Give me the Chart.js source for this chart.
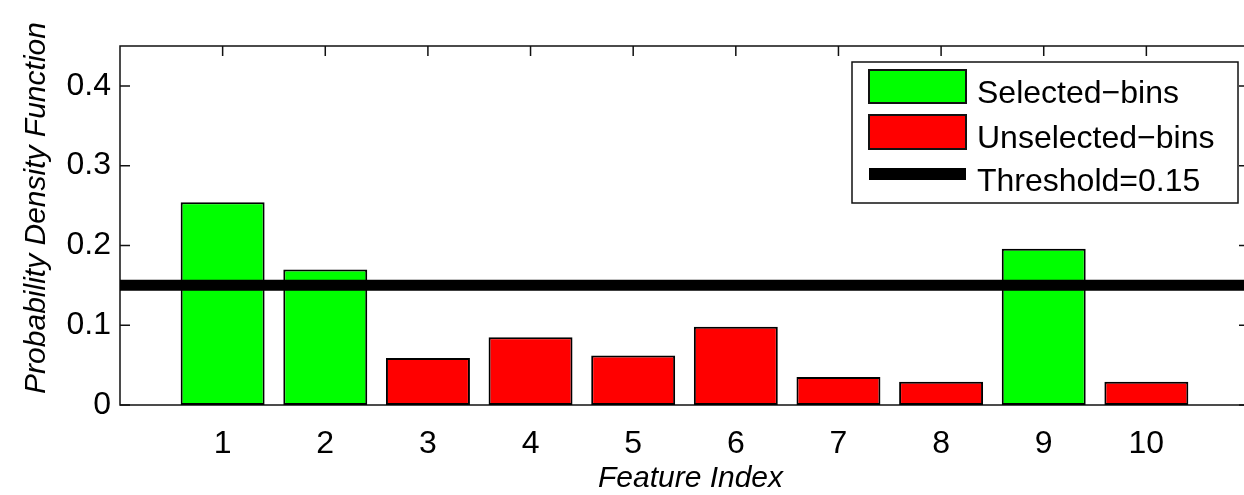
<!DOCTYPE html>
<html>
<head>
<meta charset="utf-8">
<script src="https://cdn.jsdelivr.net/npm/chart.js@4.4.0/dist/chart.umd.min.js"></script>
<style>
  html, body { margin: 0; padding: 0; overflow: hidden; background: #fff; }
  #wrap { width: 1260px; height: 495px; }
</style>
</head>
<body>
<div id="wrap"><canvas id="pdf-chart"></canvas></div>
<script>
// feature bins and their estimated pdf values
var featureIndex = [1, 2, 3, 4, 5, 6, 7, 8, 9, 10];
var pdfValues = [0.254, 0.170, 0.059, 0.085, 0.062, 0.098, 0.035, 0.029, 0.196, 0.029];
var selectedBins = [1, 2, 9];
var threshold = 0.15;
var yTickValues = [0, 0.1, 0.2, 0.3, 0.4];
var xLimits = [0, 11];
var yLimits = [0, 0.45];

var selectedData = [];
var unselectedData = [];
featureIndex.forEach(function (f, i) {
  var pt = { x: f, y: pdfValues[i] };
  if (selectedBins.indexOf(f) >= 0) selectedData.push(pt);
  else unselectedData.push(pt);
});

var tickFont = { family: "'Liberation Sans', Arial, sans-serif", size: 32 };
var titleFont = "italic 30px 'Liberation Sans', Arial, sans-serif";

// matlab style box with inward ticks, drawn under the data
var axesBox = {
  id: "axesBox",
  beforeDatasetsDraw: function (chart) {
    var ctx = chart.ctx, a = chart.chartArea;
    var xs = chart.scales.x, ys = chart.scales.y;
    var tl = 10;
    ctx.save();
    ctx.strokeStyle = "#111";
    ctx.lineWidth = 1.5;
    ctx.strokeRect(a.left, a.top, a.right - a.left, a.bottom - a.top);
    ctx.beginPath();
    featureIndex.forEach(function (f) {
      var px = xs.getPixelForValue(f);
      ctx.moveTo(px, a.top); ctx.lineTo(px, a.top + tl);
      ctx.moveTo(px, a.bottom); ctx.lineTo(px, a.bottom - tl);
    });
    yTickValues.forEach(function (v) {
      var py = ys.getPixelForValue(v);
      ctx.moveTo(a.left, py); ctx.lineTo(a.left + tl, py);
      ctx.moveTo(a.right, py); ctx.lineTo(a.right - tl, py);
    });
    ctx.stroke();
    ctx.restore();
  },
  afterDraw: function (chart) {
    var ctx = chart.ctx, a = chart.chartArea;
    ctx.save();
    ctx.fillStyle = "#000";
    ctx.font = titleFont;
    // x title
    ctx.textAlign = "center";
    ctx.textBaseline = "alphabetic";
    ctx.fillText("Feature Index", (a.left + a.right) / 2 + 6, a.bottom + 82);
    // y title
    ctx.translate(37, 208);
    ctx.rotate(-Math.PI / 2);
    ctx.textBaseline = "middle";
    ctx.fillText("Probability Density Function", 0, 0);
    ctx.restore();
  }
};

// legend box in the upper right corner of the axes
var boxLegend = {
  id: "boxLegend",
  afterDatasetsDraw: function (chart) {
    var ctx = chart.ctx, a = chart.chartArea;
    var left = a.right - 397, top = a.top + 16, w = 386, h = 141;
    ctx.save();
    ctx.fillStyle = "#fff";
    ctx.fillRect(left, top, w, h);
    ctx.strokeStyle = "#111";
    ctx.lineWidth = 1.5;
    ctx.strokeRect(left, top, w, h);

    var px = left + 17, pw = 97;
    ctx.lineWidth = 2;
    ctx.fillStyle = "#00ff00";
    ctx.fillRect(px, top + 8, pw, 33);
    ctx.strokeRect(px, top + 8, pw, 33);
    ctx.fillStyle = "#ff0000";
    ctx.fillRect(px, top + 53, pw, 34);
    ctx.strokeRect(px, top + 53, pw, 34);
    ctx.fillStyle = "#000";
    ctx.fillRect(px, top + 106, pw, 12);

    ctx.font = "32px 'Liberation Sans', Arial, sans-serif";
    ctx.textAlign = "left";
    ctx.textBaseline = "alphabetic";
    ctx.fillText("Selected\u2212bins", left + 125, top + 41);
    ctx.fillText("Unselected\u2212bins", left + 125, top + 86);
    ctx.fillText("Threshold=" + threshold, left + 125, top + 129);
    ctx.restore();
  }
};

var ctx = document.getElementById("pdf-chart").getContext("2d");
var chart = new Chart(ctx, {
  type: "bar",
  data: {
    datasets: [
      {
        type: "line",
        label: "Threshold=" + threshold,
        data: [{ x: xLimits[0], y: threshold }, { x: xLimits[1], y: threshold }],
        borderColor: "#000",
        borderWidth: 11,
        pointRadius: 0,
        fill: false,
        order: 0,
      },
      {
        label: "Selected-bins",
        data: selectedData,
        backgroundColor: "#00ff00",
        borderColor: "#000",
        borderWidth: 2,
        borderSkipped: false,
        grouped: false,
        barPercentage: 1,
        categoryPercentage: 0.818,
        order: 1,
      },
      {
        label: "Unselected-bins",
        data: unselectedData,
        backgroundColor: "#ff0000",
        borderColor: "#000",
        borderWidth: 2,
        borderSkipped: false,
        grouped: false,
        barPercentage: 1,
        categoryPercentage: 0.818,
        order: 1,
      },
    ],
  },
  options: {
    responsive: true,
    maintainAspectRatio: false,
    animation: false,
    events: [],
    layout: { padding: { top: 46, right: 11, left: 0, bottom: 0 } },
    plugins: {
      legend: { display: false },
      tooltip: { enabled: false },
    },
    scales: {
      x: {
        type: "linear",
        offset: false,
        min: xLimits[0],
        max: xLimits[1],
        afterBuildTicks: function (axis) {
          axis.ticks = featureIndex.map(function (v) { return { value: v }; });
        },
        afterFit: function (axis) { axis.height = 90; },
        grid: { display: false, drawTicks: false, offset: false },
        border: { display: false },
        ticks: {
          color: "#000",
          padding: 20,
          maxRotation: 0,
          autoSkip: false,
          font: tickFont,
          callback: function (v) { return String(v); },
        },
      },
      y: {
        min: yLimits[0],
        max: yLimits[1],
        afterBuildTicks: function (axis) {
          axis.ticks = yTickValues.map(function (v) { return { value: v }; });
        },
        afterFit: function (axis) { axis.width = 120; },
        grid: { display: false, drawTicks: false },
        border: { display: false },
        ticks: {
          color: "#000",
          padding: 9,
          font: tickFont,
          callback: function (v) { return String(v); },
        },
      },
    },
  },
  plugins: [axesBox, boxLegend],
});
</script>
</body>
</html>
